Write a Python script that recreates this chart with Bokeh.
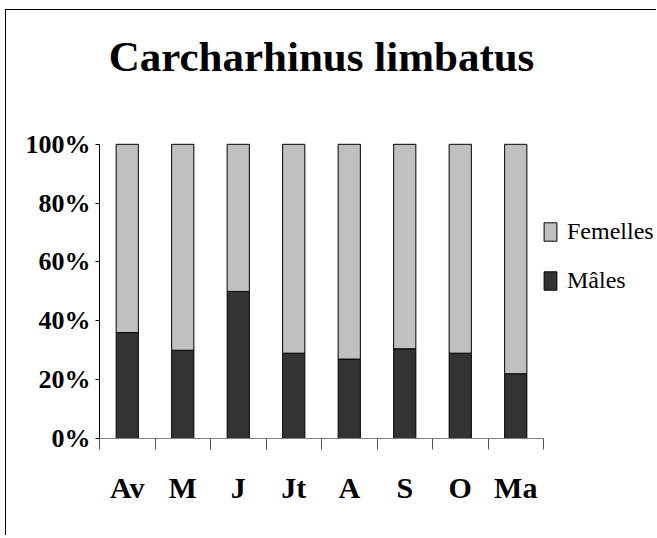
from bokeh.plotting import figure
from bokeh.models import Range1d, FixedTicker, Legend, LegendItem, ColumnDataSource, Label
from bokeh.embed import file_html
from bokeh.resources import INLINE

months = ["Av", "M", "J", "Jt", "A", "S", "O", "Ma"]
males = [36, 30, 50, 29, 27, 30.5, 29, 22]
femelles = [64, 70, 50, 71, 73, 69.5, 71, 78]
y_ticks = [0, 20, 40, 60, 80, 100]
y_tick_labels = ["0%", "20%", "40%", "60%", "80%", "100%"]
title_text = "Carcharhinus limbatus"
series_names = ["Mâles", "Femelles"]
colors = ["#333333", "#c0c0c0"]

n = len(months)
xs = [i + 0.5 for i in range(n)]
src = ColumnDataSource(dict(x=xs, Males=males, Femelles=femelles))

# frame covers the area right of the y axis and above the x axis,
# so that the title and the legend can live inside it
p = figure(width=651, height=526, output_backend="svg", toolbar_location=None,
           x_range=Range1d(0, n * 558 / 444), y_range=Range1d(0, 100 * 428 / 294.2),
           min_border_left=93, min_border_right=0, min_border_top=0, min_border_bottom=98)
p.styles = {"border-top": "1px solid black", "border-left": "1px solid black",
            "margin-left": "5px", "margin-top": "9px"}
p.outline_line_color = None
p.xgrid.visible = False
p.ygrid.visible = False
p.background_fill_color = "white"
p.border_fill_color = "white"

r = p.vbar_stack(["Males", "Femelles"], x="x", width=0.4, source=src,
                 fill_color=colors, line_color="black", line_width=1)

font = "Liberation Serif"

title = Label(x=n / 2, y=382.5, x_units="data", y_units="screen", text=title_text,
              text_font=font, text_font_style="bold", text_font_size="43px",
              text_align="center", text_baseline="alphabetic", text_color="black")
p.add_layout(title)

# x axis
p.xaxis.bounds = (0, n)
p.xaxis.ticker = FixedTicker(ticks=xs, minor_ticks=list(range(n + 1)))
p.xaxis.major_label_overrides = {x: m for x, m in zip(xs, months)}
p.xaxis.major_tick_out = 0
p.xaxis.major_tick_in = 0
p.xaxis.minor_tick_out = 11
p.xaxis.minor_tick_in = 0
p.xaxis.minor_tick_line_color = "#555555"
p.xaxis.axis_line_color = "#808080"
p.xaxis.major_label_text_font = font
p.xaxis.major_label_text_font_style = "bold"
p.xaxis.major_label_text_font_size = "30px"
p.xaxis.major_label_text_color = "black"
p.xaxis.major_label_standoff = 21

# y axis
p.yaxis.bounds = (0, 100)
p.yaxis.ticker = FixedTicker(ticks=y_ticks, minor_ticks=[])
p.yaxis.major_label_overrides = {t: l for t, l in zip(y_ticks, y_tick_labels)}
p.yaxis.major_tick_out = 4
p.yaxis.major_tick_in = 0
p.yaxis.minor_tick_line_color = None
p.yaxis.axis_line_color = "black"
p.yaxis.major_tick_line_color = "black"
p.yaxis.major_label_text_font = font
p.yaxis.major_label_text_font_style = "bold"
p.yaxis.major_label_text_font_size = "26px"
p.yaxis.major_label_text_color = "black"
p.yaxis.major_label_standoff = 5

legend = Legend(items=[LegendItem(label=series_names[1], renderers=[r[1]]),
                       LegendItem(label=series_names[0], renderers=[r[0]])],
                location=(443, 144))
legend.glyph_width = 16
legend.glyph_height = 23
legend.label_height = 23
legend.label_standoff = 9
legend.spacing = 22
legend.padding = 0
legend.margin = 0
legend.border_line_color = None
legend.background_fill_alpha = 0
legend.label_text_font = font
legend.label_text_font_size = "24px"
legend.label_text_color = "black"
p.add_layout(legend, "center")

open("out.html", "w").write(file_html(p, INLINE))
